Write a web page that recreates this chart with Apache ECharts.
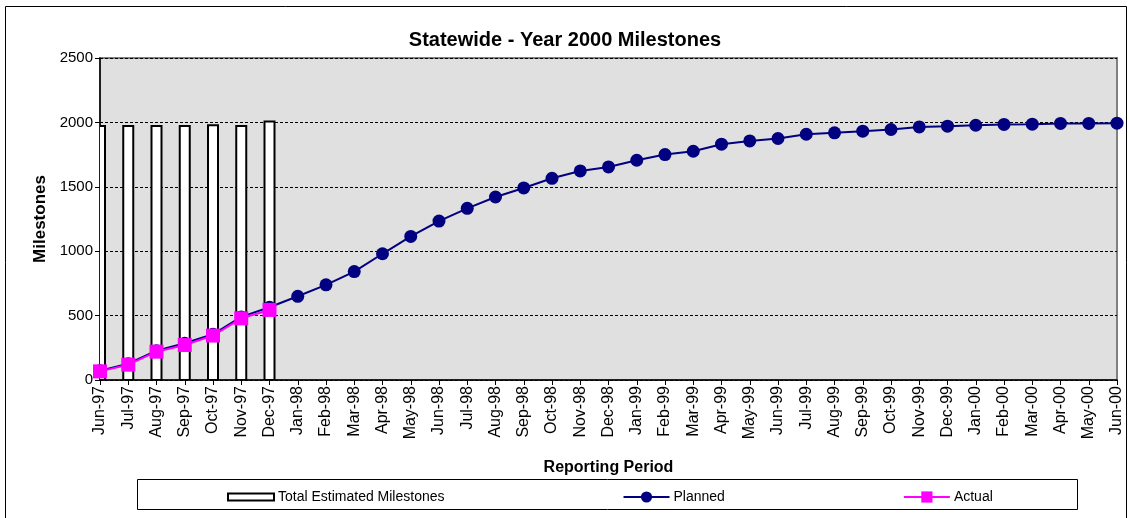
<!DOCTYPE html>
<html>
<head>
<meta charset="utf-8">
<script src="https://cdn.jsdelivr.net/npm/echarts@6/dist/echarts.min.js"></script>
<style>
html,body{margin:0;padding:0;background:#fff;}
#chart{width:1130px;height:518px;}
</style>
</head>
<body>
<div id="chart"></div>
<script>
const categories = ['Jun-97','Jul-97','Aug-97','Sep-97','Oct-97','Nov-97','Dec-97',
  'Jan-98','Feb-98','Mar-98','Apr-98','May-98','Jun-98','Jul-98','Aug-98','Sep-98','Oct-98','Nov-98','Dec-98',
  'Jan-99','Feb-99','Mar-99','Apr-99','May-99','Jun-99','Jul-99','Aug-99','Sep-99','Oct-99','Nov-99','Dec-99',
  'Jan-00','Feb-00','Mar-00','Apr-00','May-00','Jun-00'];
const totalEstimated = [1972, 1972, 1972, 1972, 1978, 1972, 2007];
const planned = [72, 126, 228, 285, 355, 490, 565,
  650, 739, 842, 980, 1115, 1234, 1333, 1421, 1491, 1566, 1623, 1654,
  1706, 1750, 1776, 1831, 1856, 1875, 1908, 1919, 1932, 1945, 1965, 1971,
  1978, 1984, 1986, 1992, 1992, 1994];
const actual = [67, 119, 220, 272, 345, 479, 544];
const yTicks = {min: 0, max: 2500, step: 500};

const FONT = "'Liberation Sans', Arial, sans-serif";
const chart = echarts.init(document.getElementById('chart'), null, {renderer: 'canvas'});
chart.setOption({
  animation: false,
  backgroundColor: '#ffffff',
  textStyle: {fontFamily: FONT, color: '#000'},
  title: {
    text: 'Statewide - Year 2000 Milestones',
    left: 'center', top: 30, padding: [0, 0, 0, 10],
    textStyle: {fontFamily: FONT, fontSize: 20, fontWeight: 'bold', color: '#000'}
  },
  graphic: [
    {type: 'rect', shape: {x: 5.5, y: 6.5, width: 1121, height: 540}, style: {fill: 'none', stroke: '#000', lineWidth: 1}, silent: true, z: 0},
    {type: 'rect', shape: {x: 137.5, y: 479.5, width: 940, height: 30}, style: {fill: '#fff', stroke: '#000', lineWidth: 1}, silent: true, z: 0}
  ],
  legend: {
    left: 227, top: 490, padding: 0,
    itemGap: 178, itemWidth: 46, itemHeight: 14,
    textStyle: {fontFamily: FONT, fontSize: 14, color: '#000', padding: [0, 0, 0, -1]},
    data: [
      {name: 'Total Estimated Milestones', icon: 'path://M0,0 L46,0 L46,7 L0,7 Z',
       itemStyle: {color: '#fff', borderColor: '#000', borderWidth: 2}},
      {name: 'Planned'},
      {name: 'Actual'}
    ]
  },
  grid: {
    left: 100, right: 13, top: 58, bottom: 138,
    show: true, backgroundColor: '#e0e0e0', borderColor: '#808080', borderWidth: 2
  },
  xAxis: {
    type: 'category', data: categories, boundaryGap: false,
    name: 'Reporting Period', nameLocation: 'middle', nameGap: 80,
    nameTextStyle: {fontFamily: FONT, fontSize: 16, fontWeight: 'bold', color: '#000'},
    axisLine: {show: true, lineStyle: {color: '#000', width: 1.5}},
    axisTick: {show: true, alignWithLabel: true, length: 5, lineStyle: {color: '#000'}},
    axisLabel: {rotate: 90, interval: 0, fontFamily: FONT, fontSize: 16, color: '#000', margin: 6},
    splitLine: {show: false}
  },
  yAxis: {
    type: 'value', min: yTicks.min, max: yTicks.max, interval: yTicks.step,
    name: 'Milestones', nameLocation: 'middle', nameGap: 45, nameRotate: 90,
    nameTextStyle: {fontFamily: FONT, fontSize: 17, fontWeight: 'bold', color: '#000'},
    axisLine: {show: true, lineStyle: {color: '#000', width: 1.5}},
    axisTick: {show: true, length: 5, lineStyle: {color: '#000'}},
    axisLabel: {fontFamily: FONT, fontSize: 15, color: '#000', margin: 7, formatter: v => String(v)},
    splitLine: {show: true, lineStyle: {color: '#000', type: [3, 2], width: 1}}
  },
  series: [
    {
      name: 'Total Estimated Milestones', type: 'custom', clip: true,
      data: totalEstimated.map((v, i) => [i, v]),
      encode: {x: 0, y: 1},
      itemStyle: {color: '#ffffff', borderColor: '#000', borderWidth: 2},
      renderItem: function (params, api) {
        const idx = api.value(0), val = api.value(1);
        const top = api.coord([idx, val]);
        const base = api.coord([idx, 0]);
        const w = 10;
        return {
          type: 'rect',
          shape: {x: top[0] - w / 2, y: top[1], width: w, height: base[1] - top[1]},
          style: {fill: '#ffffff', stroke: '#000', lineWidth: 2}
        };
      }
    },
    {
      name: 'Planned', type: 'line', data: planned,
      symbol: 'circle', symbolSize: 13, showAllSymbol: true,
      lineStyle: {color: '#000080', width: 2},
      itemStyle: {color: '#000080'}
    },
    {
      name: 'Actual', type: 'line', data: actual,
      symbol: 'rect', symbolSize: 14, showAllSymbol: true,
      lineStyle: {color: '#ff00ff', width: 2},
      itemStyle: {color: '#ff00ff'}
    }
  ]
});
</script>
</body>
</html>
